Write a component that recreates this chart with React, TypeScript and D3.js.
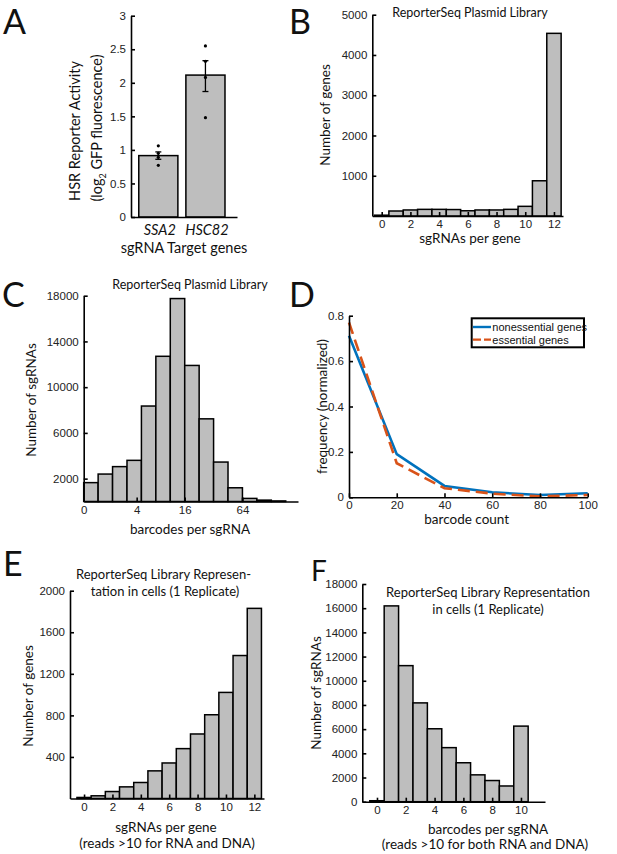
import React, { useEffect, useRef } from 'react';
import * as d3 from 'd3';

// Panel A: HSR reporter activity
const targetGenes = ['SSA2', 'HSC82'];
const geneSlots = [1, 2];
const meanActivity = [0.915, 2.115];
const errLow = [0.86, 1.87];
const errHigh = [0.97, 2.33];
const replicateActivity = [
  [1.06, 0.95, 0.89, 0.77],
  [2.55, 2.32, 2.08, 1.48],
];
const activityTicks = [0, 0.5, 1, 1.5, 2, 2.5, 3];

// Panel B: sgRNAs per gene, plasmid library
const sgrnaBins = [0, 1, 2, 3, 4, 5, 6, 7, 8, 9, 10, 11, 12];
const plasmidGeneCounts = [20, 124, 150, 165, 165, 160, 130, 150, 150, 165, 240, 875, 4537];
const plasmidGeneTicks = [1000, 2000, 3000, 4000, 5000];
const sgrnaTicks = [0, 2, 4, 6, 8, 10, 12];

// Panel C: barcodes per sgRNA, plasmid library (log-spaced bins)
const barcodeBinCounts = [1650, 2400, 3050, 3600, 8350, 12700, 17750, 11900, 7230, 3450, 1200, 270, 120, 50];
const barcodeTickPos = [0, 3.67, 7, 11];
const barcodeTickLabels = ['0', '4', '16', '64'];
const sgrnaCountTicks = [2000, 6000, 10000, 14000, 18000];

// Panel D: barcode count frequency
const barcodeCount = [0, 20, 40, 60, 80, 100];
const nonessentialFreq = [0.712, 0.19, 0.05, 0.022, 0.01, 0.018];
const essentialFreq = [0.77, 0.15, 0.04, 0.016, 0.004, 0.01];
const freqTicks = [0, 0.2, 0.4, 0.6, 0.8];
const countTicks = [0, 20, 40, 60, 80, 100];

// Panel E: sgRNAs per gene in cells
const cellGeneCounts = [10, 26, 67, 112, 154, 266, 342, 480, 621, 806, 1021, 1376, 1830];
const cellGeneTicks = [400, 800, 1200, 1600, 2000];

// Panel F: barcodes per sgRNA in cells
const cellBarcodeBins = [0, 1, 2, 3, 4, 5, 6, 7, 8, 9, 10];
const cellBarcodeCounts = [80, 16190, 11250, 8170, 6030, 4470, 3220, 2220, 1750, 1300, 6250];
const cellSgrnaTicks = [0, 2000, 4000, 6000, 8000, 10000, 12000, 14000, 16000, 18000];
const cellBarcodeTicks = [0, 2, 4, 6, 8, 10];

const BAR_FILL = '#bebebe';
const TICK_FONT = '"Liberation Sans", Arial, sans-serif';
const LABEL_FONT = 'Lato, "Open Sans", sans-serif';

function App() {
  const svgRef = useRef<SVGSVGElement>(null);

  useEffect(() => {
    const svg = d3.select(svgRef.current);
    svg.selectAll('*').remove();

    // common axis styling (matlab-like, ticks pointing inward)
    const styleAxis = (g) => {
      g.select('.domain').attr('stroke', '#000').attr('stroke-width', 1.6);
      g.selectAll('.tick line').attr('stroke', '#000').attr('stroke-width', 1.6);
      g.selectAll('.tick text')
        .attr('fill', '#222')
        .style('font-family', TICK_FONT)
        .style('font-size', '11.5px');
    };

    const yAxis = (y, ticks, fmt?) => (g) =>
      g
        .call(
          d3
            .axisLeft(y)
            .tickValues(ticks)
            .tickSizeInner(-4)
            .tickSizeOuter(0)
            .tickPadding(5)
            .tickFormat(fmt || ((d) => String(d))),
        )
        .call(styleAxis);

    const xAxis = (x, ticks, fmt?) => (g) =>
      g
        .call(
          d3
            .axisBottom(x)
            .tickValues(ticks)
            .tickSizeInner(-4)
            .tickSizeOuter(0)
            .tickPadding(4)
            .tickFormat(fmt || ((d) => String(d))),
        )
        .call(styleAxis);

    const label = (x, y, text, size = 13.5, rotate = false) =>
      svg
        .append('text')
        .attr('transform', rotate ? `translate(${x},${y}) rotate(-90)` : `translate(${x},${y})`)
        .attr('text-anchor', 'middle')
        .style('font-family', LABEL_FONT)
        .style('font-size', size + 'px')
        .attr('fill', '#111')
        .text(text);

    const panelLetter = (x, y, letter, size = 34) =>
      svg
        .append('text')
        .attr('x', x)
        .attr('y', y)
        .style('font-family', LABEL_FONT)
        .style('font-size', size + 'px')
        .attr('fill', '#111')
        .text(letter);

    // draw a histogram with centred integer bins
    const histogram = (g, x, y, bins, counts) => {
      g.selectAll('rect.bar')
        .data(bins)
        .enter()
        .append('rect')
        .attr('class', 'bar')
        .attr('x', (d) => x(d - 0.5))
        .attr('width', (d) => x(d + 0.5) - x(d - 0.5))
        .attr('y', (d, i) => y(counts[i]))
        .attr('height', (d, i) => y(0) - y(counts[i]))
        .attr('fill', BAR_FILL)
        .attr('stroke', '#000')
        .attr('stroke-width', 1.5);
    };

    // ---------- Panel A ----------
    panelLetter(3, 34, 'A');
    const xA = d3.scaleLinear().domain([0.42, 2.67]).range([131, 237]);
    const yA = d3.scaleLinear().domain([0, 3]).range([217, 15.7]);
    const gA = svg.append('g');
    gA.selectAll('rect')
      .data(geneSlots)
      .enter()
      .append('rect')
      .attr('x', (d) => xA(d - 0.415))
      .attr('width', xA(0.83) - xA(0))
      .attr('y', (d, i) => yA(meanActivity[i]))
      .attr('height', (d, i) => yA(0) - yA(meanActivity[i]))
      .attr('fill', BAR_FILL)
      .attr('stroke', '#000')
      .attr('stroke-width', 1.5);
    geneSlots.forEach((s, i) => {
      const cx = xA(s);
      gA.append('line')
        .attr('x1', cx).attr('x2', cx)
        .attr('y1', yA(errLow[i])).attr('y2', yA(errHigh[i]))
        .attr('stroke', '#000').attr('stroke-width', 1.3);
      [errLow[i], errHigh[i]].forEach((v) => {
        gA.append('line')
          .attr('x1', cx - 3).attr('x2', cx + 3)
          .attr('y1', yA(v)).attr('y2', yA(v))
          .attr('stroke', '#000').attr('stroke-width', 1.3);
      });
      replicateActivity[i].forEach((v) => {
        gA.append('circle').attr('cx', cx).attr('cy', yA(v)).attr('r', 1.6).attr('fill', '#000');
      });
    });
    svg.append('g').attr('transform', 'translate(131,0)').call(yAxis(yA, activityTicks));
    svg.append('g').attr('transform', 'translate(0,217)').call((g) =>
      g.call(d3.axisBottom(xA).tickValues([]).tickSizeOuter(0)).call(styleAxis),
    );
    geneSlots.forEach((s, i) => {
      svg
        .append('text')
        .attr('x', xA(s) + 1.5)
        .attr('y', 235)
        .attr('text-anchor', 'middle')
        .style('font-family', LABEL_FONT)
        .style('font-size', '14.5px')
        .style('font-style', 'italic')
        .attr('fill', '#111')
        .text(targetGenes[i]);
    });
    label(184, 253, 'sgRNA Target genes', 14.5);
    label(80, 131, 'HSR Reporter Activity', 14.5, true);
    const logLabel = svg
      .append('text')
      .attr('transform', 'translate(102,128) rotate(-90)')
      .attr('text-anchor', 'middle')
      .style('font-family', LABEL_FONT)
      .style('font-size', '14.5px')
      .attr('fill', '#111');
    logLabel.append('tspan').text('(log');
    logLabel.append('tspan').attr('dy', 4).style('font-size', '9px').text('2');
    logLabel.append('tspan').attr('dy', -4).text(' GFP fluorescence)');

    // ---------- Panel B ----------
    panelLetter(289, 34, 'B');
    const xB = d3.scaleLinear().domain([-0.655, 12.63]).range([372.3, 563]);
    const yB = d3.scaleLinear().domain([0, 5000]).range([216, 14.7]);
    histogram(svg.append('g'), xB, yB, sgrnaBins, plasmidGeneCounts);
    svg.append('g').attr('transform', 'translate(372.3,0)').call(yAxis(yB, plasmidGeneTicks));
    svg.append('g').attr('transform', 'translate(0,216)').call(xAxis(xB, sgrnaTicks));
    label(470, 17, 'ReporterSeq Plasmid Library', 12.5);
    label(470, 243, 'sgRNAs per gene', 13.5);
    label(330, 115, 'Number of genes', 13.5, true);

    // ---------- Panel C ----------
    panelLetter(2, 307, 'C');
    const xC = d3.scaleLinear().domain([0, 14.85]).range([83.7, 298]);
    const yC = d3.scaleLinear().domain([0, 18000]).range([501.5, 295.7]);
    svg
      .append('g')
      .selectAll('rect')
      .data(barcodeBinCounts)
      .enter()
      .append('rect')
      .attr('x', (d, i) => xC(i))
      .attr('width', xC(1) - xC(0))
      .attr('y', (d) => yC(d))
      .attr('height', (d) => yC(0) - yC(d))
      .attr('fill', BAR_FILL)
      .attr('stroke', '#000')
      .attr('stroke-width', 1.5);
    svg.append('g').attr('transform', 'translate(83.7,0)').call(yAxis(yC, sgrnaCountTicks));
    svg
      .append('g')
      .attr('transform', 'translate(0,501.5)')
      .call(xAxis(xC, barcodeTickPos, (d, i) => barcodeTickLabels[i]));
    label(190, 289, 'ReporterSeq Plasmid Library', 12.5);
    label(190, 534, 'barcodes per sgRNA', 13.5);
    label(36, 400, 'Number of sgRNAs', 13.5, true);

    // ---------- Panel D ----------
    panelLetter(289, 307, 'D');
    const xD = d3.scaleLinear().domain([0, 100]).range([349, 587.7]);
    const yD = d3.scaleLinear().domain([0, 0.8]).range([497.3, 315.7]);
    const lineD = d3
      .line<number>()
      .x((d, i) => xD(barcodeCount[i]))
      .y((d) => yD(d));
    svg
      .append('path')
      .attr('d', lineD(nonessentialFreq))
      .attr('fill', 'none')
      .attr('stroke', '#0072BD')
      .attr('stroke-width', 2.6);
    svg
      .append('path')
      .attr('d', lineD(essentialFreq))
      .attr('fill', 'none')
      .attr('stroke', '#D95319')
      .attr('stroke-width', 2.6)
      .attr('stroke-dasharray', '12,6');
    svg.append('g').attr('transform', 'translate(349,0)').call(yAxis(yD, freqTicks));
    svg.append('g').attr('transform', 'translate(0,497.3)').call(xAxis(xD, countTicks));
    label(466.7, 524, 'barcode count', 13.5);
    label(327, 406.5, 'frequency (normalized)', 13.5, true);

    // legend
    const legend = svg.append('g');
    legend
      .append('rect')
      .attr('x', 471.7)
      .attr('y', 318.3)
      .attr('width', 112.3)
      .attr('height', 29)
      .attr('fill', '#fff')
      .attr('stroke', '#000')
      .attr('stroke-width', 2);
    const legendItems = [
      { name: 'nonessential genes', color: '#0072BD', dash: null },
      { name: 'essential genes', color: '#D95319', dash: '8,3' },
    ];
    legendItems.forEach((it, i) => {
      const ly = 327 + i * 12.6;
      legend
        .append('line')
        .attr('x1', 473)
        .attr('x2', 491)
        .attr('y1', ly)
        .attr('y2', ly)
        .attr('stroke', it.color)
        .attr('stroke-width', 2.4)
        .attr('stroke-dasharray', it.dash);
      legend
        .append('text')
        .attr('x', 492.3)
        .attr('y', ly + 4)
        .style('font-family', TICK_FONT)
        .style('font-size', '11px')
        .attr('fill', '#111')
        .text(it.name);
    });

    // ---------- Panel E ----------
    panelLetter(3, 576, 'E');
    const xE = d3.scaleLinear().domain([-0.99, 12.68]).range([70, 264]);
    const yE = d3.scaleLinear().domain([0, 2000]).range([798.5, 590.7]);
    histogram(svg.append('g'), xE, yE, sgrnaBins, cellGeneCounts);
    svg.append('g').attr('transform', 'translate(70,0)').call(yAxis(yE, cellGeneTicks));
    svg.append('g').attr('transform', 'translate(0,798.5)').call(xAxis(xE, sgrnaTicks));
    label(163.5, 579, 'ReporterSeq Library Represen-', 13);
    label(165, 596, 'tation in cells (1 Replicate)', 13);
    label(166, 832, 'sgRNAs per gene', 13.5);
    label(167, 848, '(reads >10 for RNA and DNA)', 13.5);
    label(33, 696, 'Number of genes', 13.5, true);

    // ---------- Panel F ----------
    panelLetter(311, 581, 'F', 28);
    const xF = d3.scaleLinear().domain([-1.02, 11.67]).range([362.3, 545]);
    const yF = d3.scaleLinear().domain([0, 18000]).range([801.7, 584]);
    histogram(svg.append('g'), xF, yF, cellBarcodeBins, cellBarcodeCounts);
    svg.append('g').attr('transform', 'translate(362.3,0)').call(yAxis(yF, cellSgrnaTicks));
    svg.append('g').attr('transform', 'translate(0,801.7)').call(xAxis(xF, cellBarcodeTicks));
    label(488, 597, 'ReporterSeq Library Representation', 13);
    label(488, 614, 'in cells (1 Replicate)', 13);
    label(488, 834, 'barcodes per sgRNA', 13.5);
    label(485, 849, '(reads >10 for both RNA and DNA)', 13.5);
    label(321, 693, 'Number of sgRNAs', 13.5, true);
  }, []);

  return (
    <svg
      ref={svgRef}
      width={617}
      height={854}
      style={{ position: 'absolute', left: 0, top: 0, background: '#fff' }}
    />
  );
}

export default App;
